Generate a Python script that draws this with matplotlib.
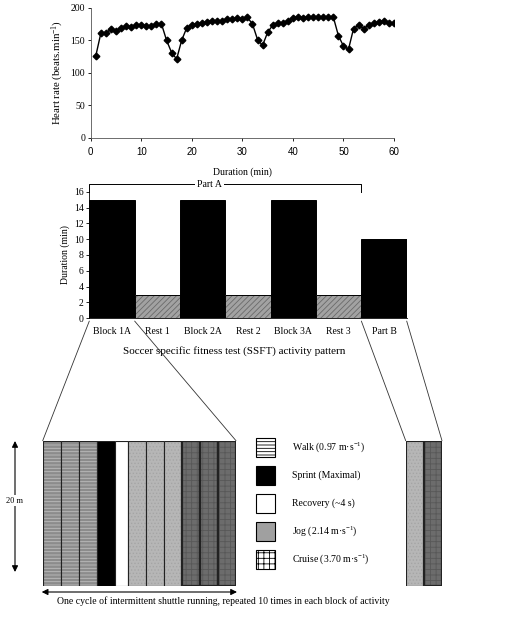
import numpy as np
import matplotlib
matplotlib.use("Agg")
import matplotlib.pyplot as plt
from matplotlib.patches import Rectangle, ConnectionPatch

plt.rcParams['font.family'] = 'Liberation Serif'
plt.rcParams['mathtext.fontset'] = 'custom'
plt.rcParams['mathtext.rm'] = 'Liberation Serif'
plt.rcParams['mathtext.it'] = 'Liberation Serif:italic'
plt.rcParams['hatch.linewidth'] = 0.6

# -------------------------------
# Data
# -------------------------------
minutes = list(range(1, 61))
heart_rate = [125.6, 160.5, 161, 166.7, 164.6, 168.7, 171.8, 170, 172.8, 172.8,
              171.8, 171.8, 175, 175, 150, 131, 121, 150, 169, 174,
              175, 176, 178, 180, 180, 180, 182.5, 182.5, 183.5, 182.5,
              185, 175, 151, 142, 162, 173, 177, 177, 180, 184.5,
              186, 184.5, 185.5, 185.5, 185.5, 185.5, 185.5, 185.5, 157, 141,
              136, 168, 173, 168, 173, 176, 178, 179.5, 176.5, 176.5]

phases = ['Block 1A', 'Rest 1', 'Block 2A', 'Rest 2', 'Block 3A', 'Rest 3', 'Part B']
phase_minutes = [15, 3, 15, 3, 15, 3, 10]
phase_is_rest = [False, True, False, True, False, True, False]

# one shuttle cycle (activity, relative width)
cycle_acts = ['walk', 'walk', 'walk', 'sprint', 'recovery',
              'jog', 'jog', 'jog', 'cruise', 'cruise', 'cruise']
cycle_widths = [1, 1, 1, 1, 0.75, 1, 1, 1, 1, 1, 1]
partb_acts = ['jog', 'cruise']
partb_widths = [1, 1]

legend_acts = ['walk', 'sprint', 'recovery', 'jog', 'cruise']
legend_labels = ['Walk (0.97 m·s$^{-1}$)', 'Sprint (Maximal)', 'Recovery (~4 s)',
                 'Jog (2.14 m·s$^{-1}$)', 'Cruise (3.70 m·s$^{-1}$)']

W, H = 525, 617
fig = plt.figure(figsize=(W / 100, H / 100), dpi=100)


def px(l, t, r, b):
    return [l / W, 1 - b / H, (r - l) / W, (b - t) / H]


# -------------------------------
# Top: heart rate
# -------------------------------
ax1 = fig.add_axes(px(90.7, 7.7, 394, 137.7))
ax1.plot(minutes, heart_rate, color='k', lw=1, marker='D', ms=3.4)
ax1.set_xlim(0, 60)
ax1.set_ylim(0, 200)
ax1.set_yticks(range(0, 201, 50))
ax1.set_xticks(range(0, 61, 10))
for s in ['top', 'right']:
    ax1.spines[s].set_visible(False)
for s in ['left', 'bottom']:
    ax1.spines[s].set_linewidth(0.6)
    ax1.spines[s].set_color('#555555')
ax1.tick_params(direction='out', length=2.5, width=0.6, pad=1.5, labelsize=7)
ax1.tick_params(axis='x', pad=4)
for lab in ax1.get_xticklabels():
    lab.set_family('Liberation Sans')
ax1.set_xlabel('Duration (min)', fontsize=7, labelpad=8)
ax1.set_ylabel('Heart rate (beats.min$^{-1}$)', fontsize=7.8, labelpad=3)

# -------------------------------
# Middle: activity pattern
# -------------------------------
ax2 = fig.add_axes(px(89.3, 191.7, 406.7, 318.3))
xpos = np.arange(len(phases))
for i, (d, rest) in enumerate(zip(phase_minutes, phase_is_rest)):
    if rest:
        ax2.bar(i, d, width=1, color='#a2a2a2', edgecolor='#6a6a6a', lw=0, hatch='//////')
        ax2.bar(i, d, width=1, fill=False, edgecolor='k', lw=0.7)
    else:
        ax2.bar(i, d, width=1, color='k', edgecolor='k', lw=0.7)
ax2.set_xlim(-0.5, 6.5)
ax2.set_ylim(0, 16)
ax2.set_yticks(range(0, 17, 2))
ax2.set_xticks(xpos, phases)
for s in ['top', 'right']:
    ax2.spines[s].set_visible(False)
for s in ['left', 'bottom']:
    ax2.spines[s].set_linewidth(0.6)
ax2.tick_params(axis='y', direction='out', length=2.5, width=0.6, pad=1.5, labelsize=7)
ax2.tick_params(axis='x', length=0, pad=6, labelsize=7)
ax2.set_ylabel('Duration (min)', fontsize=7, labelpad=3)

# Part A bracket
ax2.plot([-0.5, -0.5, 5.5, 5.5], [16, 16.97, 16.97, 16], color='k', lw=0.7, clip_on=False)
ax2.text(2.15, 16.97, 'Part A', ha='center', va='center', fontsize=7,
         bbox=dict(facecolor='white', edgecolor='none', pad=1.5), clip_on=False)

fig.text(234 / W, 1 - 351 / H, 'Soccer specific fitness test (SSFT) activity pattern',
         ha='center', va='center', fontsize=8)

# -------------------------------
# Bottom: shuttle cycle diagrams
# -------------------------------
fills = {'walk': ('#8c8c8c', '#bdbdbd', '-----'),
         'sprint': ('k', 'k', None),
         'recovery': ('white', 'white', None),
         'jog': ('#b6b6b6', '#a5a5a5', '.....'),
         'cruise': ('#6c6c6c', '#585858', '+++')}
edges = {'walk': 0.8, 'sprint': 0.8, 'recovery': 0.8, 'jog': 0.8, 'cruise': 1.6}


def draw_strips(ax, acts, widths):
    lefts = np.concatenate([[0], np.cumsum(widths)[:-1]])
    for a, l, w in zip(acts, lefts, widths):
        fc, hc, hatch = fills[a]
        ax.bar(l, 1, width=w, align='edge', color=fc, edgecolor=hc, lw=0, hatch=hatch)
        ax.bar(l, 1, width=w, align='edge', fill=False, edgecolor='#222222', lw=edges[a])
    ax.set_xlim(0, sum(widths))
    ax.set_ylim(0, 1)
    ax.axis('off')


ax3 = fig.add_axes(px(42.7, 440.7, 236, 586))
draw_strips(ax3, cycle_acts, cycle_widths)
ax4 = fig.add_axes(px(405.7, 440.7, 442, 586))
draw_strips(ax4, partb_acts, partb_widths)

# zoom lines from the bars to the diagrams
for bar_i, target in [(0, ax3), (6, ax4)]:
    for side, corner in [(-0.5, (0, 1)), (0.5, (1, 1))]:
        con = ConnectionPatch(xyA=(bar_i + side, -0.35), coordsA=ax2.transData,
                              xyB=corner, coordsB=target.transAxes,
                              color='#333333', lw=0.6)
        fig.add_artist(con)

# overlay in pixel coordinates: legend, arrows, captions
ax0 = fig.add_axes([0, 0, 1, 1])
ax0.set_xlim(0, W)
ax0.set_ylim(H, 0)
ax0.axis('off')

leg_fills = {'walk': ('white', '-----'), 'sprint': ('k', None), 'recovery': ('white', None),
             'jog': ('#a0a0a0', None), 'cruise': ('white', '+++')}
for i, (a, lab) in enumerate(zip(legend_acts, legend_labels)):
    yc = 447.5 + i * 28
    fc, hatch = leg_fills[a]
    ax0.add_patch(Rectangle((256, yc - 9.2), 19, 18.4, facecolor=fc, edgecolor='k',
                            lw=0.8, hatch=hatch))
    ax0.text(292, yc - 0.5, lab, ha='left', va='center', fontsize=7)

ax0.annotate('', xy=(15, 441), xytext=(15, 572),
             arrowprops=dict(arrowstyle='<|-|>', color='k', lw=0.8, mutation_scale=9,
                             shrinkA=0, shrinkB=0))
ax0.text(14.5, 500.7, '20 m', ha='center', va='center', fontsize=6,
         bbox=dict(facecolor='white', edgecolor='none', pad=1))
ax0.annotate('', xy=(41.7, 592), xytext=(237, 592),
             arrowprops=dict(arrowstyle='<|-|>', color='k', lw=0.8, mutation_scale=9,
                             shrinkA=0, shrinkB=0))
ax0.text(56.7, 601.5, 'One cycle of intermittent shuttle running, repeated 10 times in each block of activity',
         ha='left', va='center', fontsize=7)

fig.savefig('out.png', dpi=100)
